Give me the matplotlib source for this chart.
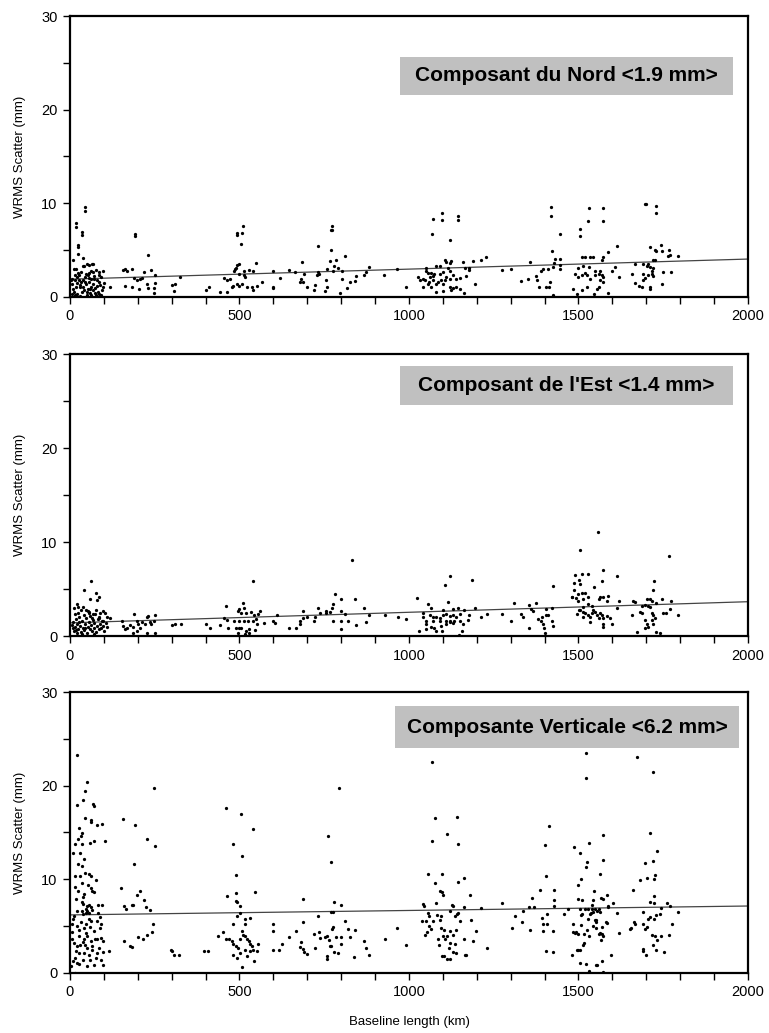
import matplotlib
matplotlib.use("Agg")
import matplotlib.pyplot as plt
from matplotlib.patches import Rectangle
from matplotlib.ticker import MultipleLocator

plt.rcParams['font.family'] = ['Liberation Sans', 'DejaVu Sans']

# ---------------- data ----------------
north_points = [
    (44, 9.6), (44, 9.2), (17, 7.9), (17, 7.5), (35, 6.9), (36, 6.6), (25, 5.6), (25, 5.3), (23, 4.6), (8, 4.0),
    (37, 4.2), (49, 3.5), (64, 3.5), (40, 3.3), (12, 3.0), (19, 3.0), (7, 1.95), (15, 1.8), (22, 2.1), (27, 1.85),
    (32, 1.6), (37, 1.8), (45, 2.1), (52, 2.3), (57, 2.55), (62, 2.8), (67, 2.65), (77, 2.9), (85, 2.3), (92, 2.1),
    (97, 2.8), (62, 1.95), (55, 1.6), (47, 1.35), (39, 1.1), (29, 1.06), (17, 1.1), (9, 0.9), (12, 0.5), (22, 0.35),
    (35, 0.5), (42, 0.7), (52, 0.9), (62, 1.1), (67, 0.7), (75, 1.0), (82, 0.5), (87, 0.35), (95, 0.7), (77, 0.18),
    (62, 0.18), (49, 0.18), (29, 0.07), (15, 0.18), (5, 0.28), (72, 1.95), (79, 1.8), (87, 1.6), (57, 3.4), (67, 3.5),
    (37, 3.3), (47, 2.5), (32, 2.65), (27, 2.3), (67, 1.4), (97, 1.06), (92, 0.18), (7, 1.4), (2, 1.8), (20, 1.5),
    (30, 1.3), (44, 1.6), (50, 0.5), (58, 0.9), (70, 2.2), (80, 1.2), (90, 1.3), (100, 1.5), (25, 2.6), (55, 2.0),
    (85, 2.7), (14, 2.4), (60, 0.4), (73, 0.45),
    (157, 2.9), (162, 3.0), (167, 2.8), (182, 3.0), (192, 6.7), (192, 6.5), (229, 4.5), (238, 2.9), (218, 2.7),
    (190, 2.0), (198, 1.8), (207, 1.9), (212, 2.05), (162, 1.2), (182, 1.1), (204, 0.8), (227, 1.4), (229, 1.0),
    (247, 1.0), (252, 1.5), (249, 0.4), (250, 2.4), (117, 1.1), (302, 1.3), (310, 1.4), (307, 0.6), (325, 2.1),
    (400, 0.7), (410, 1.1), (442, 0.5), (462, 0.5), (454, 2.0), (462, 1.8), (472, 1.9),
    (510, 7.55), (507, 6.8), (494, 6.8), (492, 6.6), (503, 5.7), (499, 3.5), (494, 3.4), (490, 3.1), (486, 3.0),
    (484, 2.8), (514, 2.8), (529, 2.9), (539, 2.8), (548, 3.6), (500, 2.5), (512, 2.3), (516, 2.1), (477, 1.1),
    (482, 1.2), (492, 1.35), (500, 1.2), (507, 1.35), (522, 1.1), (536, 1.1), (541, 0.7), (551, 1.2), (566, 1.6),
    (598, 2.8), (620, 2.0), (646, 2.9), (665, 2.7), (685, 3.7), (690, 2.5), (681, 1.9), (678, 1.6), (688, 1.6),
    (698, 1.1), (722, 1.3), (720, 0.7), (735, 2.5), (729, 2.3), (733, 2.7), (733, 5.4), (771, 5.0), (769, 7.1),
    (773, 7.6), (773, 7.2), (767, 3.8), (785, 4.0), (779, 3.3), (777, 2.8), (792, 3.1), (802, 2.8), (811, 4.4),
    (757, 3.0), (755, 1.8), (757, 1.1), (752, 0.6), (796, 0.4), (801, 1.95), (818, 1.0), (827, 1.6), (840, 1.7),
    (843, 2.2), (874, 2.7), (881, 3.2), (927, 2.3), (965, 3.0), (990, 1.1), (867, 2.4), (598, 1.1), (600, 1.0),
    (1071, 8.3), (1097, 8.2), (1098, 9.0), (1144, 8.6), (1144, 8.2), (1069, 6.7), (1120, 6.1), (1211, 3.9),
    (1227, 4.3), (1188, 3.8), (1051, 3.1), (1049, 2.8), (1056, 2.6), (1066, 2.55), (1075, 2.5), (1080, 3.3),
    (1090, 3.3), (1105, 3.9), (1110, 3.7), (1120, 3.6), (1124, 3.8), (1115, 3.1), (1120, 2.8), (1100, 2.65),
    (1090, 2.5), (1071, 2.2), (1061, 2.1), (1041, 1.95), (1026, 2.1), (1031, 1.85), (1046, 1.8), (1059, 1.6),
    (1071, 1.8), (1085, 1.6), (1095, 1.8), (1105, 1.85), (1110, 2.1), (1120, 1.95), (1129, 2.3), (1139, 1.9),
    (1149, 2.05), (1159, 3.7), (1164, 3.1), (1178, 3.1), (1169, 2.2), (1066, 1.1), (1080, 1.4), (1100, 1.4),
    (1120, 1.06), (1129, 1.0), (1139, 1.06), (1124, 0.7), (1100, 0.6), (1080, 0.5), (1056, 1.35), (1041, 1.06),
    (1149, 0.9), (1162, 0.4), (1196, 1.35), (1178, 2.9), (1274, 2.9), (1301, 3.0),
    (1420, 9.6), (1418, 8.6), (1446, 6.7), (1421, 4.9), (1432, 4.1), (1446, 4.1), (1429, 3.6), (1444, 3.4),
    (1444, 3.0), (1425, 3.2), (1410, 3.0), (1390, 2.8), (1395, 3.0), (1356, 3.7), (1374, 2.2), (1378, 1.8),
    (1384, 1.1), (1405, 1.1), (1413, 1.1), (1415, 1.6), (1350, 1.9), (1330, 1.7), (1425, 0.2),
    (1531, 9.5), (1572, 9.5), (1529, 8.1), (1571, 8.1), (1503, 7.3), (1505, 6.5), (1699, 9.9), (1696, 9.9),
    (1728, 9.75), (1728, 9.0), (1613, 5.4), (1586, 4.8), (1573, 4.25), (1570, 3.9), (1544, 4.25), (1534, 4.3),
    (1519, 4.3), (1510, 4.25), (1531, 3.2), (1514, 3.3), (1500, 3.1), (1490, 2.5), (1500, 2.1), (1510, 2.3),
    (1519, 2.6), (1524, 2.4), (1534, 1.95), (1549, 2.3), (1559, 2.5), (1568, 2.3), (1573, 2.1), (1564, 2.8),
    (1549, 2.8), (1598, 2.8), (1608, 3.2), (1618, 2.1), (1485, 0.9), (1510, 0.7), (1524, 1.06), (1547, 0.3),
    (1559, 1.1), (1554, 0.9), (1588, 0.4), (1564, 1.8), (1573, 1.6), (1495, 0.35),
    (1711, 5.3), (1725, 5.0), (1730, 4.9), (1742, 5.6), (1745, 4.9), (1767, 5.0), (1769, 4.5), (1763, 4.4),
    (1794, 4.4), (1725, 3.9), (1720, 3.9), (1706, 3.5), (1701, 3.3), (1711, 3.2), (1720, 3.1), (1691, 3.5),
    (1667, 3.55), (1657, 2.5), (1691, 2.5), (1706, 2.3), (1716, 2.5), (1720, 2.2), (1750, 2.7), (1774, 2.7),
    (1745, 1.4), (1667, 1.5), (1677, 1.2), (1686, 1.06), (1711, 1.06), (1711, 0.8), (1696, 2.0), (1691, 1.8),
    (1716, 2.8),
]

east_points = [
    (63, 5.9), (42, 4.9), (77, 4.6), (87, 4.1), (79, 3.8), (59, 3.9), (22, 3.4), (25, 3.1), (12, 3.0), (32, 2.8),
    (37, 3.1), (47, 2.8), (57, 2.6), (67, 2.35), (77, 2.8), (97, 2.7), (102, 2.4), (87, 2.0), (117, 1.9), (97, 1.6),
    (5, 1.2), (8, 0.8), (10, 1.5), (12, 0.5), (15, 1.0), (18, 1.8), (20, 0.3), (22, 1.3), (25, 0.7), (28, 2.0),
    (30, 1.1), (32, 0.4), (35, 1.6), (38, 0.9), (40, 2.2), (42, 0.6), (45, 1.3), (48, 1.9), (50, 0.3), (52, 1.0),
    (55, 1.5), (58, 0.7), (60, 2.1), (62, 1.2), (65, 0.5), (68, 1.7), (70, 0.9), (72, 1.4), (75, 2.3), (78, 0.4),
    (80, 1.1), (82, 1.8), (85, 0.7), (88, 1.3), (90, 2.4), (92, 0.9), (95, 1.6), (98, 1.1), (100, 0.5), (105, 1.4),
    (108, 2.0), (15, 2.3), (25, 2.5), (35, 0.2), (55, 2.4), (65, 1.9), (45, 0.8), (18, 0.6), (28, 1.5), (72, 0.2),
    (85, 1.9), (52, 2.7), (110, 1.0),
    (152, 1.56), (157, 1.1), (162, 0.7), (177, 1.2), (189, 2.3), (187, 1.0), (197, 1.6), (202, 1.3), (207, 0.9),
    (197, 0.54), (212, 1.45), (222, 1.3), (227, 2.0), (229, 2.1), (237, 1.45), (239, 1.3), (247, 1.6), (250, 2.2),
    (252, 0.3), (227, 0.36), (185, 0.3), (167, 0.8), (302, 1.2), (309, 1.3), (327, 1.27), (402, 1.27), (412, 0.9),
    (442, 1.2), (459, 3.15), (454, 1.9), (464, 1.7), (467, 0.8),
    (541, 5.9), (510, 3.5), (514, 3.0), (500, 2.9), (495, 2.7), (505, 2.5), (519, 2.4), (534, 2.6), (544, 2.2),
    (561, 2.7), (548, 1.8), (539, 1.6), (524, 1.6), (514, 1.6), (500, 1.6), (485, 1.6), (490, 0.8), (498, 0.9),
    (505, 0.9), (519, 0.54), (529, 0.7), (517, 0.18), (495, 0.36), (529, 0.3), (546, 0.6), (553, 1.27), (573, 1.34),
    (556, 2.3),
    (598, 1.6), (612, 2.2), (605, 1.34), (647, 0.9), (666, 0.8), (678, 1.27), (686, 2.7), (688, 1.9), (700, 2.0),
    (678, 1.6), (722, 2.0), (720, 1.56), (732, 3.0), (737, 2.4), (754, 2.7), (756, 2.4), (766, 2.6), (773, 3.0),
    (777, 3.4), (783, 4.5), (800, 3.9), (800, 2.7), (810, 2.3), (798, 1.6), (776, 1.6), (800, 0.7), (820, 1.56),
    (840, 3.9), (843, 1.2), (867, 3.0), (874, 1.5), (882, 2.2), (928, 2.2), (967, 2.0), (990, 1.8), (831, 8.1),
    (1120, 6.4), (1105, 5.4), (1186, 6.0), (1024, 4.0), (1116, 3.6), (1056, 3.4), (1041, 2.5), (1064, 3.0),
    (1100, 2.8), (1129, 2.9), (1144, 3.0), (1161, 2.8), (1196, 2.98), (1211, 2.0), (1230, 2.36), (1274, 2.36),
    (1311, 3.5), (1353, 3.3), (1374, 3.5), (1360, 2.9), (1366, 2.7), (1330, 2.3), (1337, 2.0), (1301, 1.56),
    (1404, 2.9), (1421, 3.0), (1425, 5.3), (1404, 2.2), (1409, 2.25), (1382, 1.8), (1389, 1.6), (1392, 2.06),
    (1394, 1.27), (1399, 0.9), (1402, 0.36), (1423, 1.56), (1425, 1.1), (1355, 0.8),
    (1041, 2.0), (1051, 1.6), (1061, 2.2), (1071, 2.0), (1080, 2.0), (1090, 1.9), (1100, 2.2), (1110, 2.35),
    (1120, 2.1), (1129, 2.2), (1139, 2.0), (1149, 2.35), (1134, 1.6), (1120, 1.56), (1110, 1.6), (1090, 1.56),
    (1071, 1.56), (1051, 1.27), (1049, 0.72), (1066, 0.98), (1075, 0.9), (1080, 0.54), (1095, 1.05), (1098, 0.54),
    (1108, 1.27), (1120, 1.45), (1129, 1.34), (1149, 1.56), (1159, 1.27), (1173, 1.7), (1178, 2.2), (1157, 0.54),
    (1147, 0.1), (1029, 0.54),
    (1557, 11.1), (1505, 9.2), (1768, 8.5),
    (1571, 7.0), (1613, 6.4), (1569, 5.8), (1547, 5.2), (1510, 6.6), (1529, 6.6), (1490, 6.5), (1502, 6.0),
    (1486, 5.6), (1505, 5.5), (1486, 4.9), (1482, 4.2), (1500, 4.5), (1510, 4.6), (1519, 4.6), (1529, 4.2),
    (1514, 3.9), (1500, 3.7), (1492, 4.0), (1480, 4.2), (1559, 3.9), (1564, 4.1), (1573, 4.1), (1588, 4.3),
    (1583, 3.7), (1618, 3.7), (1613, 3.0), (1529, 3.4), (1539, 3.2), (1544, 2.8), (1514, 3.1), (1505, 2.8),
    (1512, 2.6), (1519, 2.5), (1529, 2.25), (1534, 2.0), (1539, 2.4), (1549, 2.6), (1554, 2.25), (1564, 2.4),
    (1569, 2.25), (1573, 1.9), (1559, 1.9), (1583, 2.1), (1593, 1.9), (1598, 1.3), (1573, 1.3), (1534, 1.5),
    (1514, 2.0), (1495, 2.35), (1571, 1.0), (1502, 2.8),
    (1723, 5.9), (1720, 4.9), (1662, 3.75), (1667, 3.6), (1701, 3.9), (1711, 3.9), (1718, 3.7), (1730, 3.5),
    (1745, 3.9), (1774, 3.7), (1769, 2.9), (1759, 2.5), (1750, 2.4), (1794, 2.25), (1686, 3.15), (1696, 3.3),
    (1681, 2.6), (1686, 2.4), (1716, 2.4), (1720, 2.25), (1725, 1.9), (1716, 1.7), (1696, 1.7), (1701, 1.3),
    (1720, 1.3), (1657, 2.25), (1706, 0.98), (1696, 0.8), (1672, 0.43), (1730, 0.43), (1740, 0.33), (1704, 3.2),
    (1711, 3.1),
]

vert_points = [
    (20, 23.3), (51, 20.4), (44, 19.4), (37, 18.5), (22, 17.9), (69, 18.0), (70, 17.8), (44, 16.5), (61, 16.3),
    (61, 16.1), (81, 15.8), (94, 15.9), (27, 15.5), (35, 14.9), (32, 14.6), (25, 14.3), (14, 13.8), (35, 13.8),
    (59, 13.9), (71, 14.1), (103, 14.1), (10, 12.8), (30, 12.8), (42, 12.2), (24, 11.6), (35, 11.4), (45, 10.7),
    (56, 10.6), (61, 10.4), (14, 10.4), (29, 10.4), (35, 9.6), (54, 9.4), (78, 9.9), (40, 8.4), (37, 8.1),
    (61, 9.1), (66, 8.75), (71, 8.6), (19, 7.9), (39, 7.4), (51, 7.1), (56, 7.25), (61, 7.0), (47, 6.8), (34, 6.6),
    (22, 6.6), (84, 7.3), (94, 7.25), (51, 6.6), (56, 6.4), (66, 6.7), (84, 6.4), (37, 6.25), (47, 6.4), (12, 6.1),
    (5, 5.2), (32, 5.4), (47, 5.2), (61, 5.5), (42, 4.8), (27, 4.6), (91, 5.2), (88, 4.8), (71, 4.5), (47, 4.3),
    (7, 4.4), (27, 3.9), (7, 3.6), (42, 3.6), (61, 3.4), (74, 3.6), (81, 3.6), (91, 3.75), (96, 3.4), (12, 3.2),
    (22, 2.9), (39, 3.3), (51, 2.7), (66, 2.9), (86, 2.7), (27, 2.1), (42, 2.1), (56, 1.96), (81, 2.1), (96, 2.2),
    (116, 2.4), (15, 1.6), (9, 1.25), (22, 1.1), (37, 1.4), (58, 1.4), (76, 1.6), (91, 1.4), (51, 0.7), (96, 0.8),
    (2, 0.7), (15, 0.0), (27, 1.0), (10, 5.8), (20, 5.0), (30, 3.0), (50, 4.0), (65, 2.5), (80, 5.6), (90, 6.0),
    (55, 5.8), (35, 7.6), (25, 8.8), (15, 9.2), (45, 3.0), (70, 0.9), (18, 2.3), (60, 4.9),
    (155, 16.4), (193, 15.8), (248, 19.8), (227, 14.3), (251, 13.6), (190, 11.6), (151, 9.1), (197, 8.3),
    (207, 8.75), (217, 7.75), (183, 7.25), (187, 7.25), (160, 7.1), (165, 6.8), (225, 7.0), (237, 6.7), (245, 5.25),
    (243, 4.4), (227, 4.1), (215, 3.6), (202, 3.8), (160, 3.4), (178, 2.9), (183, 2.8), (299, 2.5), (302, 2.4),
    (307, 1.9), (322, 1.9), (396, 2.4), (408, 2.4),
    (459, 17.6), (505, 17.0), (540, 15.4), (482, 13.8), (507, 12.5), (490, 10.5), (546, 8.6), (462, 8.2),
    (489, 8.5), (489, 7.7), (492, 7.6), (502, 7.1), (492, 6.1), (482, 5.25), (517, 5.8), (530, 5.9), (516, 5.2),
    (502, 6.4), (437, 3.9), (450, 4.4), (459, 3.6), (469, 3.6), (477, 3.4), (482, 3.1), (489, 2.9), (497, 2.7),
    (502, 3.6), (507, 4.5), (510, 4.1), (517, 3.9), (522, 3.6), (527, 3.4), (532, 3.1), (537, 2.9), (541, 2.5),
    (551, 2.3), (556, 3.1), (543, 1.25), (508, 0.6), (492, 1.6), (480, 1.96), (502, 2.1), (517, 2.5), (522, 1.8),
    (532, 2.3),
    (598, 5.25), (600, 4.5), (625, 3.1), (618, 2.5), (598, 2.5), (647, 3.8), (667, 4.5), (686, 7.9), (688, 5.4),
    (680, 3.3), (678, 2.8), (688, 2.6), (690, 2.2), (700, 2.0), (722, 2.7), (720, 4.2), (734, 4.4), (737, 3.7),
    (732, 6.1), (752, 3.8), (757, 3.9), (760, 14.6), (771, 11.9), (765, 3.5), (767, 2.9), (773, 4.7), (776, 4.9),
    (776, 6.5), (771, 6.5), (779, 7.6), (799, 7.25), (795, 19.7), (784, 3.8), (799, 3.8), (799, 3.1), (792, 2.1),
    (779, 2.2), (757, 1.8), (757, 1.5), (769, 2.9), (811, 5.6), (819, 4.7), (827, 3.8), (841, 4.6), (839, 1.7),
    (867, 3.4), (874, 2.7), (881, 1.96), (928, 3.6), (965, 4.8), (990, 3.0),
    (1068, 22.5), (1077, 16.5), (1068, 14.1), (1113, 14.8), (1057, 10.6), (1096, 10.6), (1077, 9.6), (1091, 8.75),
    (1096, 8.6), (1101, 8.3), (1079, 7.5), (1041, 7.4), (1044, 7.1), (1055, 6.4), (1060, 6.1), (1083, 6.2),
    (1094, 6.1), (1038, 5.5), (1050, 5.5), (1060, 5.0), (1065, 4.7), (1052, 4.4), (1048, 4.1), (1070, 5.5),
    (1094, 4.8), (1087, 3.6), (1099, 3.9), (1107, 3.6), (1089, 3.0), (1117, 2.7), (1097, 1.8), (1112, 1.5),
    (1143, 16.7), (1146, 13.8), (1414, 15.7), (1401, 13.7), (1403, 10.4), (1163, 10.1), (1146, 9.75), (1180, 8.3),
    (1161, 7.0), (1126, 7.3), (1131, 7.1), (1122, 6.6), (1141, 6.25), (1149, 5.5), (1146, 6.4), (1136, 6.1),
    (1092, 5.7), (1104, 4.6), (1121, 4.5), (1139, 4.6), (1112, 3.9), (1131, 4.1), (1121, 3.2), (1136, 3.1),
    (1131, 2.2), (1139, 2.1), (1161, 3.6), (1188, 3.4), (1197, 4.5), (1182, 5.7), (1168, 1.96), (1165, 1.96),
    (1102, 1.86), (1121, 1.5), (1229, 2.7), (1212, 6.96), (1275, 7.5),
    (1303, 4.8), (1313, 6.1), (1332, 5.4), (1337, 6.6), (1357, 4.6), (1355, 7.0), (1370, 7.0), (1364, 8.0),
    (1387, 8.9), (1392, 5.9), (1394, 5.2), (1406, 5.2), (1408, 6.3), (1394, 4.5), (1425, 4.5), (1427, 7.2),
    (1428, 7.75), (1427, 8.9), (1403, 2.3), (1425, 2.2), (1458, 6.25), (1468, 6.8),
    (1523, 23.5), (1523, 20.8), (1673, 23.1), (1720, 21.5), (1572, 14.7), (1532, 13.9), (1488, 13.4), (1503, 12.85),
    (1572, 12.1), (1526, 11.8), (1523, 11.35), (1564, 10.6), (1507, 10.0), (1500, 9.4),
    (1711, 14.9), (1731, 13.0), (1696, 11.7), (1719, 12.0), (1703, 10.1), (1726, 10.5), (1723, 10.0), (1681, 9.9),
    (1660, 8.9), (1723, 8.2), (1723, 7.5), (1711, 7.6), (1760, 7.5), (1770, 7.2), (1794, 6.5), (1742, 6.9),
    (1740, 6.3), (1730, 6.2), (1723, 5.8), (1711, 6.0), (1706, 5.8), (1689, 6.5), (1691, 5.2), (1696, 4.7),
    (1703, 4.9), (1666, 5.2), (1653, 4.7), (1716, 4.1), (1726, 3.9), (1731, 3.5), (1742, 3.95), (1768, 4.05),
    (1775, 5.2), (1689, 2.6), (1691, 2.3), (1699, 1.9), (1720, 3.0), (1730, 2.5), (1752, 2.2),
    (1500, 7.9), (1510, 7.8), (1519, 6.8), (1529, 6.8), (1539, 6.8), (1505, 6.8), (1544, 7.8), (1572, 7.9),
    (1583, 8.3), (1588, 7.0), (1603, 7.5), (1549, 6.8), (1556, 6.6), (1562, 6.5), (1613, 6.4), (1507, 6.2),
    (1534, 6.3), (1544, 6.5), (1529, 5.8), (1549, 5.7), (1552, 5.4), (1559, 4.2), (1564, 4.3), (1569, 4.2),
    (1572, 3.9), (1567, 3.55), (1583, 5.3), (1618, 4.3), (1485, 4.4), (1490, 4.3), (1500, 4.2), (1515, 4.2),
    (1532, 4.0), (1507, 5.1), (1526, 4.6), (1512, 3.0), (1517, 3.2), (1497, 2.5), (1503, 2.5), (1480, 1.9),
    (1595, 1.9), (1503, 1.1), (1523, 1.0), (1532, 0.25), (1554, 0.85), (1569, 1.3), (1572, 0.14), (1552, 5.7),
    (1541, 7.3), (1545, 8.75), (1567, 8.0), (1587, 7.1), (1561, 6.8), (1538, 6.4), (1509, 6.25), (1484, 5.25),
    (1494, 4.4), (1543, 5.0), (1553, 4.8), (1570, 4.9), (1582, 5.4), (1499, 2.5), (1551, 0.9), (1654, 4.75),
    (1664, 5.4),
]

# regression lines: value at 0 km and at 2000 km
fit_x = [0, 2000]
north_fit = [1.9, 4.05]
east_fit = [1.4, 3.65]
vert_fit = [6.2, 7.15]

titles = ["Composant du Nord <1.9 mm>", "Composant de l'Est <1.4 mm>", "Composante Verticale <6.2 mm>"]
x_ticks = [0, 500, 1000, 1500, 2000]
y_ticks = [0, 10, 20, 30]

# ---------------- figure ----------------
fig = plt.figure(figsize=(7.69, 10.33), dpi=100)
positions = [
    [0.091, 0.7125, 0.8817, 0.272],
    [0.091, 0.3843, 0.8817, 0.273],
    [0.091, 0.0581, 0.8817, 0.272],
]
# text box geometry in axes fraction: (x0, y0, w, h)
boxes = [
    (0.487, 0.719, 0.491, 0.135),
    (0.487, 0.819, 0.491, 0.138),
    (0.479, 0.800, 0.508, 0.150),
]

datasets = [north_points, east_points, vert_points]
fits = [north_fit, east_fit, vert_fit]

for i in range(3):
    ax = fig.add_axes(positions[i])
    xs = [p[0] for p in datasets[i]]
    ys = [p[1] for p in datasets[i]]
    ax.scatter(xs, ys, s=5.5, c='black', linewidths=0, zorder=3)
    ax.plot(fit_x, fits[i], color='#444444', lw=0.9, zorder=2)
    ax.set_xlim(0, 2000)
    ax.set_ylim(0, 30)
    ax.set_xticks(x_ticks)
    ax.set_yticks(y_ticks)
    ax.xaxis.set_minor_locator(MultipleLocator(100))
    ax.yaxis.set_minor_locator(MultipleLocator(5))
    ax.tick_params(which='both', direction='out', width=1.0, labelsize=10.5)
    ax.tick_params(which='major', length=5, pad=4)
    ax.tick_params(which='minor', length=5)
    ax.tick_params(axis='x', top=False)
    ax.tick_params(axis='y', right=False)
    for sp in ax.spines.values():
        sp.set_linewidth(1.6)
    ax.set_ylabel("WRMS Scatter (mm)", fontsize=9.5, labelpad=11)
    bx, by, bw, bh = boxes[i]
    ax.add_patch(Rectangle((bx, by), bw, bh, transform=ax.transAxes,
                           facecolor='#c0c0c0', edgecolor='none', zorder=4))
    ax.text(bx + bw / 2, by + bh / 2, titles[i], transform=ax.transAxes,
            ha='center', va='center', fontsize=15, fontweight='bold', zorder=5)
    if i == 2:
        ax.set_xlabel("Baseline length (km)", fontsize=9.5, labelpad=12)

fig.savefig("out.png", dpi=100)
